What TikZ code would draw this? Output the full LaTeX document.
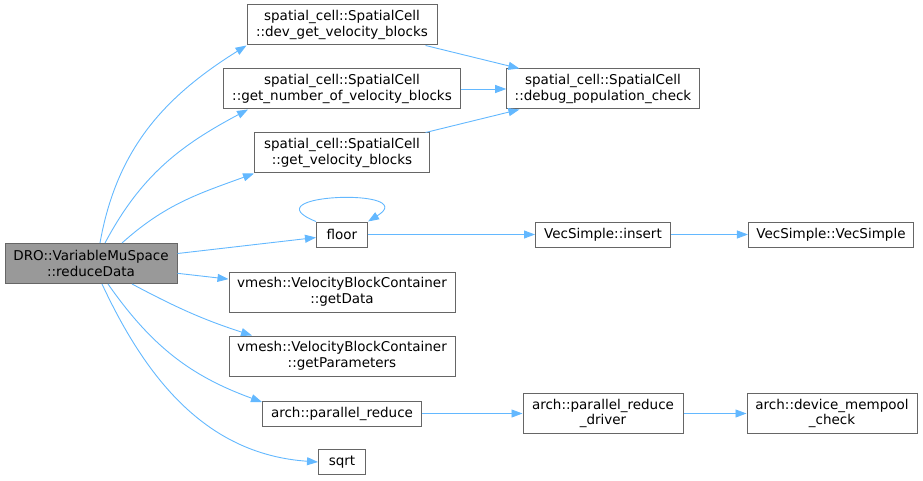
\documentclass[tikz,border=0pt]{standalone}
\usepackage{fontspec}
\setmainfont{DejaVu Sans}
\usetikzlibrary{arrows.meta}

\definecolor{edgeblue}{HTML}{63B8FF}
\definecolor{boxgray}{HTML}{666666}
\definecolor{mainfill}{HTML}{999999}

\begin{document}
\begin{tikzpicture}[x=1pt, y=-1pt]
	\tikzstyle{func} = [
		draw=boxgray, line width=1pt, fill=white,
		rectangle, align=center,
		inner xsep=8pt, inner ysep=2pt,
		minimum height=25pt,
		font={\fontsize{13.5}{15.5}\selectfont}];
	\tikzstyle{func2} = [
		func, minimum height=40pt];
	\tikzstyle{entry} = [
		func2, fill=mainfill];

	\tikzstyle{call} = [
		draw=edgeblue, line width=0.9pt, ->,
		>={Triangle[length=11pt, width=8pt]}];

	\useasboundingbox (0,0) rectangle (923,481);

	\node[entry, minimum width=172pt] at (91,263.5) (main) {DRO::VariableMuSpace\\::reduceData};

	\node[func2, minimum width=190pt] at (342,25) (devget) {spatial\_cell::SpatialCell\\::dev\_get\_velocity\_blocks};
	\node[func2, minimum width=237pt, node distance=64pt, below of=devget] (getnum) {spatial\_cell::SpatialCell\\::get\_number\_of\_velocity\_blocks};
	\node[func2, minimum width=175pt, node distance=64pt, below of=getnum] (getvel) {spatial\_cell::SpatialCell\\::get\_velocity\_blocks};
	\node[func, minimum width=51pt, node distance=81.5pt, below of=getvel] (floor) {floor};
	\node[func2, minimum width=226pt, node distance=57.5pt, below of=floor] (getdata) {vmesh::VelocityBlockContainer\\::getData};
	\node[func2, minimum width=226pt, node distance=64pt, below of=getdata] (getparams) {vmesh::VelocityBlockContainer\\::getParameters};
	\node[func, minimum width=159pt, node distance=57.5pt, below of=getparams] (parreduce) {arch::parallel\_reduce};
	\node[func, minimum width=47pt, node distance=48.5pt, below of=parreduce] (sqrt) {sqrt};

	\node[func2, minimum width=190pt, node distance=261pt, right of=getnum] (debug) {spatial\_cell::SpatialCell\\::debug\_population\_check};
	\node[func, minimum width=135pt, node distance=261pt, right of=floor] (insert) {VecSimple::insert};
	\node[func2, minimum width=160pt, node distance=261pt, right of=parreduce] (driver) {arch::parallel\_reduce\\\_driver};

	\node[func, minimum width=165pt, node distance=228pt, right of=insert] (vecsimple) {VecSimple::VecSimple};
	\node[func2, minimum width=170pt, node distance=229pt, right of=driver] (mempool) {arch::device\_mempool\\\_check};

	% calls out of reduceData
	\draw[call] ([xshift=9pt]main.north) to[out=80, in=212] (devget.south west);
	\draw[call] ([xshift=14pt]main.north) to[out=62, in=208] ([xshift=25pt]getnum.south west);
	\draw[call] ([xshift=31pt]main.north) to[out=42, in=200] (getvel.south west);
	\draw[call] (main) -- (floor);
	\draw[call] (main) -- (getdata);
	\draw[call] ([xshift=41pt]main.south) to[out=-28, in=162] ([xshift=-90pt]getparams.north);
	\draw[call] ([xshift=17pt]main.south) to[out=-55, in=160] ([yshift=-1.5pt]parreduce.north west);
	\draw[call] ([xshift=11pt]main.south) to[out=-65, in=176] (sqrt.west);

	% second level
	\draw[call] (devget) -- (debug);
	\draw[call] (getnum) -- (debug);
	\draw[call] (getvel) -- (debug);
	\draw[call] (floor.north west) .. controls +(-70,-28) and +(55,-34) .. (floor.north east);
	\draw[call] (floor) -- (insert);
	\draw[call] (insert) -- (vecsimple);
	\draw[call] (parreduce) -- (driver);
	\draw[call] (driver) -- (mempool);
\end{tikzpicture}
\end{document}
